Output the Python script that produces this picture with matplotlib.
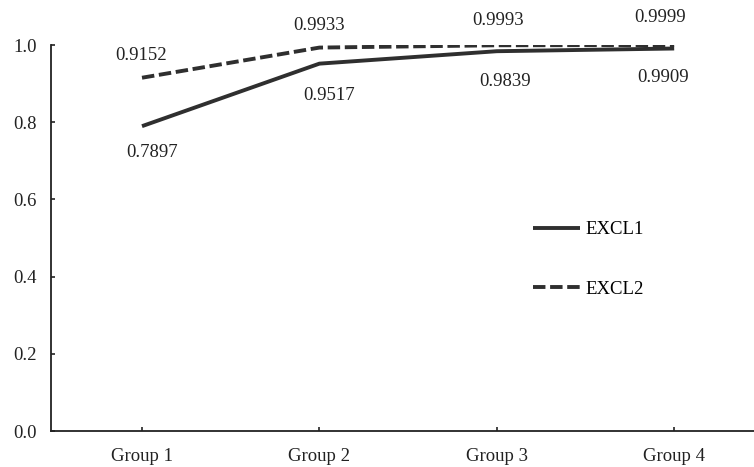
import numpy as np
import matplotlib.pyplot as plt

# data
groups = ["Group 1", "Group 2", "Group 3", "Group 4"]
excl1 = [0.7897, 0.9517, 0.9839, 0.9909]
excl2 = [0.9152, 0.9933, 0.9993, 0.9999]
yticks = [0.0, 0.2, 0.4, 0.6, 0.8, 1.0]

# label offsets in points (dx, dy) relative to each point
off1 = [(7, -19), (7, -23), (6, -22), (-8, -21)]
off2 = [(-1, 16), (0, 16), (1, 18), (-10, 20)]

plt.rcParams['font.family'] = ['Liberation Serif', 'DejaVu Serif']
col = "#2f2f2f"
fs = 13.5

fig = plt.figure(figsize=(7.54, 4.67), dpi=100)
ax = fig.add_axes([51 / 754, 36 / 467, 703 / 754, 386 / 467])

x = np.arange(len(groups))
ax.plot(x, excl1, color=col, lw=2.8, solid_capstyle="butt", label="EXCL1")
ax.plot(x, excl2, color=col, lw=2.8, linestyle=(0, (3.2, 1.2)),
        dash_capstyle="butt", label="EXCL2")

for xi, v, (dx, dy) in zip(x, excl1, off1):
    ax.annotate(f"{v:.4f}", (xi, v), xytext=(dx, dy), textcoords="offset points",
                ha="center", va="center", fontsize=fs, color="#222222")
for xi, v, (dx, dy) in zip(x, excl2, off2):
    ax.annotate(f"{v:.4f}", (xi, v), xytext=(dx, dy), textcoords="offset points",
                ha="center", va="center", fontsize=fs, color="#222222")

ax.set_xlim(-0.513, 3.45)
ax.set_ylim(0, 1.0)
ax.set_xticks(x)
ax.set_xticklabels(groups)
ax.set_yticks(yticks)
ax.set_yticklabels([f"{t:.1f}" for t in yticks])

ax.spines["top"].set_visible(False)
ax.spines["right"].set_visible(False)
for s in ["left", "bottom"]:
    ax.spines[s].set_linewidth(1.3)
    ax.spines[s].set_color("#222222")
ax.tick_params(axis="both", direction="in", length=3, width=1.2,
               labelsize=fs, colors="#222222")
ax.tick_params(axis="y", pad=10)
ax.tick_params(axis="x", pad=12)

leg = ax.legend(loc="upper left", bbox_to_anchor=(0.675, 0.5636), frameon=False,
                fontsize=fs, handlelength=2.5, handletextpad=0.27,
                labelspacing=2.27, borderaxespad=0)

fig.savefig("out.png", dpi=100)
